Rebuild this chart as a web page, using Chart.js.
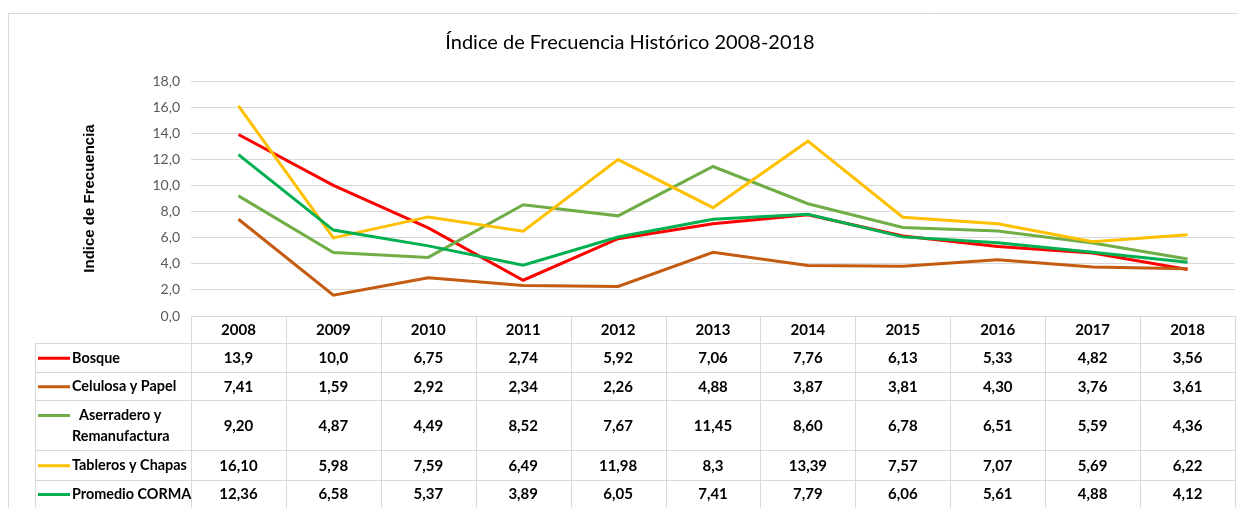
<!DOCTYPE html>
<html>
<head>
<meta charset="utf-8">
<script src="https://cdn.jsdelivr.net/npm/chart.js@4.4.1/dist/chart.umd.min.js"></script>
<style>
html,body{margin:0;padding:0;background:#fff}
#wrap{position:relative;width:1238px;height:508px}
</style>
</head>
<body>
<div id="wrap"><canvas id="c" width="1238" height="508"></canvas></div>
<script>
var years = ['2008','2009','2010','2011','2012','2013','2014','2015','2016','2017','2018']
var yTicks = [0,2,4,6,8,10,12,14,16,18]

var bosque     = ['13,9','10,0','6,75','2,74','5,92','7,06','7,76','6,13','5,33','4,82','3,56']
var celulosa   = ['7,41','1,59','2,92','2,34','2,26','4,88','3,87','3,81','4,30','3,76','3,61']
var aserradero = ['9,20','4,87','4,49','8,52','7,67','11,45','8,60','6,78','6,51','5,59','4,36']
var tableros   = ['16,10','5,98','7,59','6,49','11,98','8,3','13,39','7,57','7,07','5,69','6,22']
var promedio   = ['12,36','6,58','5,37','3,89','6,05','7,41','7,79','6,06','5,61','4,88','4,12']

var seriesNames = [['Bosque'],['Celulosa y Papel'],['  Aserradero y','Remanufactura'],['Tableros y Chapas'],['Promedio CORMA']]
var seriesColors = ['#ff0000','#c55a11','#70ad47','#ffc000','#00b050']
var seriesText = [bosque, celulosa, aserradero, tableros, promedio]

function num(s){ return parseFloat(s.replace(',','.')) }

var grid = '#d9d9d9'
var rowBounds = [316,343,371.5,400,450,479.5,507.5] // header + 5 filas

var tablePlugin = {
	id:'tabla',
	afterDraw:function(chart){
		var ctx = chart.ctx, x = chart.scales.x
		var ca = chart.chartArea
		var colW = (ca.right - ca.left) / years.length
		var leftEdge = 35
		ctx.save()
		// marco exterior
		ctx.strokeStyle = grid
		ctx.lineWidth = 1
		ctx.beginPath()
		ctx.moveTo(8.5,508); ctx.lineTo(8.5,13.5); ctx.lineTo(1238,13.5)
		ctx.stroke()
		// titulo
		ctx.fillStyle = '#000'
		ctx.font = '20px Lato'
		ctx.textAlign = 'center'
		ctx.textBaseline = 'middle'
		ctx.fillText('Índice de Frecuencia Histórico 2008-2018', 630, 43)
		// lineas de tabla
		ctx.beginPath()
		for(var r=0;r<rowBounds.length;r++){
			var yy = Math.round(rowBounds[r]) + 0.5
			ctx.moveTo(r==0?ca.left:leftEdge, yy); ctx.lineTo(ca.right, yy)
		}
		ctx.moveTo(leftEdge+0.5, rowBounds[1]); ctx.lineTo(leftEdge+0.5, 508)
		for(var i=0;i<=years.length;i++){
			var xx = Math.round(ca.left + i*colW) + 0.5
			ctx.moveTo(xx, rowBounds[0]); ctx.lineTo(xx, 508)
		}
		ctx.stroke()
		// textos
		ctx.font = 'bold 15px Lato'
		ctx.fillStyle = '#000'
		ctx.textAlign = 'center'
		for(var i=0;i<years.length;i++){
			var cx = x.getPixelForValue(i)
			ctx.fillText(years[i], cx, (rowBounds[0]+rowBounds[1])/2+1)
			for(var s=0;s<seriesText.length;s++){
				var cy = (rowBounds[s+1]+rowBounds[s+2])/2+1
				ctx.fillText(seriesText[s][i], cx, cy)
			}
		}
		// leyenda
		ctx.font = 'bold 14.4px Lato'
		for(var s=0;s<seriesNames.length;s++){
			var top = rowBounds[s+1], bot = rowBounds[s+2]
			var lines = seriesNames[s]
			var lh = 21
			var y0 = (top+bot)/2 - (lines.length-1)*lh/2 + 1
			ctx.strokeStyle = seriesColors[s]
			ctx.lineWidth = 3
			ctx.beginPath()
			ctx.moveTo(38, y0); ctx.lineTo(70, y0)
			ctx.stroke()
			ctx.textAlign = 'left'
			for(var l=0;l<lines.length;l++){
				ctx.fillText(lines[l], 72, y0 + l*lh)
			}
		}
		ctx.restore()
	}
}

var datasets = []
for(var s=0;s<seriesText.length;s++){
	datasets.push({
		label: seriesNames[s].join(' ').trim(),
		data: seriesText[s].map(num),
		borderColor: seriesColors[s],
		backgroundColor: seriesColors[s],
		borderWidth: 3,
		pointRadius: 0,
		tension: 0,
		fill: false,
		order: seriesText.length - s
	})
}

new Chart(document.getElementById('c'), {
	type:'line',
	data:{labels:years, datasets:datasets},
	options:{
		responsive:false,
		animation:false,
		layout:{padding:{top:81,bottom:192,left:0,right:3}},
		plugins:{legend:{display:false},title:{display:false},tooltip:{enabled:false}},
		scales:{
			x:{display:false, offset:true},
			y:{
				min:0, max:18,
				afterBuildTicks:function(sc){ sc.ticks = yTicks.map(function(v){return {value:v}}) },
				afterFit:function(sc){ sc.width = 191 },
				border:{display:false},
				grid:{color:grid, drawTicks:false},
				ticks:{
					padding:11,
					color:'#595959',
					font:{family:'Lato', size:14},
					callback:function(v){ return v.toFixed(1).replace('.',',') }
				},
				title:{
					display:true,
					text:'Indice de Frecuencia',
					color:'#000',
					font:{family:'Liberation Sans', size:15, weight:'bold'},
					padding:{top:81,bottom:0}
				}
			}
		}
	},
	plugins:[tablePlugin]
})
</script>
</body>
</html>
